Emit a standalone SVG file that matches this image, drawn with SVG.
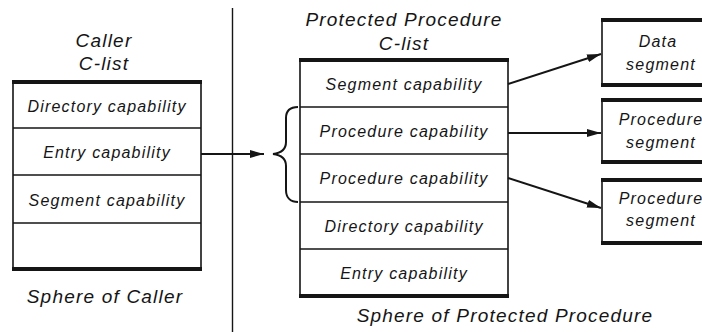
<svg xmlns="http://www.w3.org/2000/svg" width="702" height="332" viewBox="0 0 702 332">
  <style>
    text { font-family: "Liberation Sans", Arial, sans-serif; font-style: italic; fill: #151515; text-anchor: middle; }
    .title { font-size: 19px; letter-spacing: 1.2px; }
    .cell { font-size: 16px; letter-spacing: 1.2px; }
    .frame { fill: #fff; stroke: #151515; stroke-width: 1.6; }
    .rule { stroke: #151515; stroke-width: 1.6; }
    .heavy { stroke: #151515; stroke-width: 4; }
    .link { fill: none; stroke: #151515; stroke-width: 2; }
  </style>
  <defs>
    <marker id="arrow" viewBox="0 0 14 8" refX="14" refY="4" markerWidth="14" markerHeight="8" markerUnits="userSpaceOnUse" orient="auto">
      <path d="M0,0 L14,4 L0,8 z" fill="#151515"/>
    </marker>
  </defs>

  <rect width="702" height="332" fill="#fff"/>

  <!-- boundary between the two spheres -->
  <line x1="232.5" y1="8" x2="232.5" y2="332" stroke="#151515" stroke-width="1.4"/>

  <!-- caller's capability list -->
  <g id="caller-clist">
    <text class="title" x="104" y="47">Caller</text>
    <text class="title" x="104" y="70">C-list</text>
    <rect class="frame" x="13" y="82" width="188" height="187"/>
    <line class="rule" x1="13" y1="128" x2="201" y2="128"/>
    <line class="rule" x1="13" y1="175" x2="201" y2="175"/>
    <line class="rule" x1="13" y1="223" x2="201" y2="223"/>
    <line class="heavy" x1="12" y1="82" x2="202" y2="82"/>
    <line class="heavy" x1="12" y1="269" x2="202" y2="269"/>
    <text class="cell" x="107" y="112">Directory capability</text>
    <text class="cell" x="107" y="158">Entry capability</text>
    <text class="cell" x="107" y="206">Segment capability</text>
    <text class="title" x="105" y="303">Sphere of Caller</text>
  </g>

  <!-- protected procedure's capability list -->
  <g id="protected-clist">
    <text class="title" x="404" y="26">Protected Procedure</text>
    <text class="title" x="404" y="50">C-list</text>
    <rect class="frame" x="300" y="60" width="208" height="236"/>
    <line class="rule" x1="300" y1="107" x2="508" y2="107"/>
    <line class="rule" x1="300" y1="154" x2="508" y2="154"/>
    <line class="rule" x1="300" y1="202" x2="508" y2="202"/>
    <line class="rule" x1="300" y1="249" x2="508" y2="249"/>
    <line class="heavy" x1="299" y1="60" x2="509" y2="60"/>
    <line class="heavy" x1="299" y1="296" x2="509" y2="296"/>
    <text class="cell" x="404" y="90">Segment capability</text>
    <text class="cell" x="404" y="137">Procedure capability</text>
    <text class="cell" x="404" y="184">Procedure capability</text>
    <text class="cell" x="404" y="232">Directory capability</text>
    <text class="cell" x="404" y="279">Entry capability</text>
    <text class="title" x="505" y="322">Sphere of Protected Procedure</text>
  </g>

  <!-- segments reached from the protected list -->
  <g id="data-segment">
    <rect class="frame" x="602" y="20" width="120" height="65"/>
    <line class="heavy" x1="601" y1="20" x2="722" y2="20"/>
    <line class="heavy" x1="601" y1="85" x2="722" y2="85"/>
    <text class="cell" x="658" y="47">Data</text>
    <text class="cell" x="661" y="70">segment</text>
  </g>
  <g id="procedure-segment-1">
    <rect class="frame" x="602" y="100" width="120" height="62"/>
    <line class="heavy" x1="601" y1="100" x2="722" y2="100"/>
    <line class="heavy" x1="601" y1="162" x2="722" y2="162"/>
    <text class="cell" x="661" y="125">Procedure</text>
    <text class="cell" x="661" y="148">segment</text>
  </g>
  <g id="procedure-segment-2">
    <rect class="frame" x="602" y="180" width="120" height="63"/>
    <line class="heavy" x1="601" y1="180" x2="722" y2="180"/>
    <line class="heavy" x1="601" y1="243" x2="722" y2="243"/>
    <text class="cell" x="661" y="204">Procedure</text>
    <text class="cell" x="661" y="226">segment</text>
  </g>

  <!-- connectors -->
  <g id="connectors">
    <line class="link" x1="201" y1="154" x2="264" y2="154" marker-end="url(#arrow)"/>
    <path class="link" d="M298,107 C291,107 286,110 286,118 L286,142 C286,149 282,153 273,154 C282,155 286,159 286,166 L286,190 C286,198 291,202 298,202"/>
    <line class="link" x1="508" y1="84" x2="601" y2="54" marker-end="url(#arrow)"/>
    <line class="link" x1="508" y1="133" x2="601" y2="133" marker-end="url(#arrow)"/>
    <line class="link" x1="508" y1="178" x2="601" y2="208" marker-end="url(#arrow)"/>
  </g>
</svg>
